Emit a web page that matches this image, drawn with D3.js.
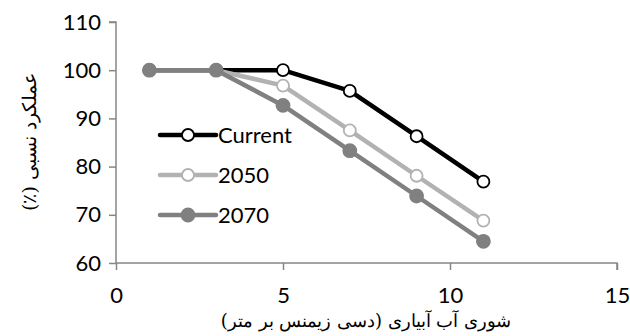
<!DOCTYPE html>
<html>
<head>
<meta charset="utf-8">
<script src="https://cdn.jsdelivr.net/npm/d3@7"></script>
<style>
  body { margin: 0; background: #fff; }
  svg text { font-family: Lato, "Open Sans", sans-serif; }
</style>
</head>
<body>
<svg width="630" height="336"></svg>
<script>
const salinity = [1, 3, 5, 7, 9, 11];
const current = [100, 100, 100, 95.7, 86.3, 76.9];
const y2050 = [100, 100, 96.8, 87.5, 78.1, 68.8];
const y2070 = [100, 100, 92.7, 83.3, 73.9, 64.5];
const seriesNames = ['Current', '2050', '2070'];
const xTicks = [0, 5, 10, 15];
const yTicks = [60, 70, 80, 90, 100, 110];

const svg = d3.select('svg');
const margin = { top: 22, right: 13, bottom: 73, left: 116 };
const width = +svg.attr('width');
const height = +svg.attr('height');
const innerWidth = width - margin.left - margin.right;
const innerHeight = height - margin.top - margin.bottom;

const xScale = d3.scaleLinear().domain([0, 15]).range([0, innerWidth]);
const yScale = d3.scaleLinear().domain([60, 110]).range([innerHeight, 0]);

const g = svg.append('g')
    .attr('transform', `translate(${margin.left}, ${margin.top})`);

const axisColor = '#868686';

const yAxisG = g.append('g')
    .call(d3.axisLeft(yScale).tickValues(yTicks).tickSize(7).tickPadding(8));
const xAxisG = g.append('g')
    .attr('transform', `translate(0, ${innerHeight})`)
    .call(d3.axisBottom(xScale).tickValues(xTicks).tickSize(7).tickPadding(17));

[xAxisG, yAxisG].forEach(a => {
    a.select('.domain').attr('stroke', axisColor).attr('stroke-width', 1.5);
    a.selectAll('.tick line').attr('stroke', axisColor).attr('stroke-width', 1.5);
    a.selectAll('.tick text').attr('fill', '#000').style('font-size', '22px');
});
yAxisG.select('.domain').attr('d', `M-7,0H0V${innerHeight}`);
xAxisG.select('.domain').attr('d', `M0,0H${innerWidth}V7`);

const series = [
    { name: seriesNames[0], values: current, color: '#000000', fill: '#ffffff', r: 6 },
    { name: seriesNames[1], values: y2050, color: '#b2b2b2', fill: '#ffffff', r: 6 },
    { name: seriesNames[2], values: y2070, color: '#808080', fill: '#808080', r: 6.5 }
];

const line = d3.line()
    .x((d, i) => xScale(salinity[i]))
    .y(d => yScale(d));

series.forEach(s => {
    g.append('path')
        .attr('d', line(s.values))
        .attr('fill', 'none')
        .attr('stroke', s.color)
        .attr('stroke-width', 4.5)
        .attr('stroke-linejoin', 'round');
    g.selectAll(null)
        .data(s.values)
        .enter().append('circle')
        .attr('cx', (d, i) => xScale(salinity[i]))
        .attr('cy', d => yScale(d))
        .attr('r', s.r)
        .attr('fill', s.fill)
        .attr('stroke', s.color)
        .attr('stroke-width', 1.8);
});

// legend
const legend = g.append('g').attr('transform', 'translate(44, 113)');
series.forEach((s, i) => {
    const row = legend.append('g').attr('transform', `translate(0, ${i * 40})`);
    row.append('line')
        .attr('x1', 0).attr('x2', 56)
        .attr('stroke', s.color).attr('stroke-width', 4.5)
        .attr('stroke-linecap', 'round');
    row.append('circle')
        .attr('cx', 28).attr('r', s.r)
        .attr('fill', s.fill).attr('stroke', s.color).attr('stroke-width', 1.8);
    row.append('text')
        .attr('x', 58).attr('y', 8)
        .style('font-size', '22px')
        .text(s.name);
});

svg.append('text')
    .attr('x', 366)
    .attr('y', 327)
    .attr('text-anchor', 'middle')
    .attr('direction', 'rtl')
    .style('font-family', '"DejaVu Serif", "Liberation Serif", serif')
    .style('font-size', '18px')
    .text('شوری آب آبیاری (دسی زیمنس بر متر)');

svg.append('text')
    .attr('transform', 'rotate(-90)')
    .attr('x', -142)
    .attr('y', 36)
    .attr('text-anchor', 'middle')
    .attr('direction', 'rtl')
    .style('font-family', '"DejaVu Serif", "Liberation Serif", serif')
    .style('font-size', '19px')
    .text('عملکرد نسبی (٪)');
</script>
</body>
</html>
